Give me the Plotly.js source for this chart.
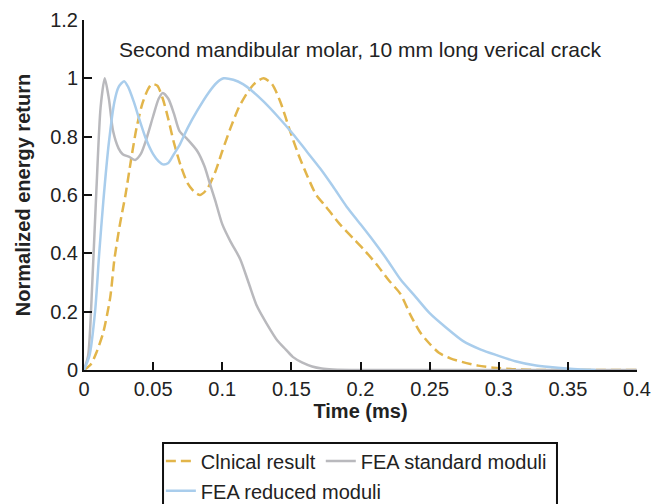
<!DOCTYPE html>
<html>
<head>
<meta charset="utf-8">
<script src="https://cdn.plot.ly/plotly-3.0.1.min.js"></script>
<style>html,body{margin:0;padding:0;background:#fff;}#chart{width:653px;height:504px;}</style>
</head>
<body>
<div id="chart"></div>
<script>
// Time (ms) and normalized energy return
var clinicalX = [0, 0.005, 0.009, 0.014, 0.019, 0.022, 0.026, 0.03, 0.034, 0.038, 0.042, 0.046, 0.049, 0.053, 0.057, 0.061, 0.065, 0.07, 0.075, 0.08, 0.084, 0.089, 0.095, 0.1, 0.106, 0.112, 0.118, 0.124, 0.13, 0.136, 0.142, 0.149, 0.155, 0.162, 0.168, 0.175, 0.185, 0.195, 0.203, 0.212, 0.22, 0.229, 0.236, 0.243, 0.25, 0.257, 0.265, 0.274, 0.285, 0.296, 0.31, 0.33, 0.4];
var clinicalY = [0, 0.02, 0.06, 0.13, 0.25, 0.38, 0.5, 0.6, 0.72, 0.83, 0.91, 0.96, 0.98, 0.975, 0.93, 0.86, 0.78, 0.7, 0.64, 0.61, 0.6, 0.62, 0.68, 0.75, 0.83, 0.9, 0.95, 0.985, 1.0, 0.98, 0.92, 0.82, 0.74, 0.66, 0.6, 0.56, 0.5, 0.45, 0.41, 0.36, 0.31, 0.26, 0.19, 0.13, 0.09, 0.058, 0.04, 0.027, 0.015, 0.008, 0.003, 0, 0];

var standardX = [0, 0.003, 0.006, 0.009, 0.012, 0.015, 0.018, 0.021, 0.025, 0.028, 0.033, 0.037, 0.041, 0.045, 0.05, 0.054, 0.057, 0.061, 0.065, 0.069, 0.075, 0.082, 0.087, 0.091, 0.095, 0.1, 0.106, 0.113, 0.119, 0.125, 0.132, 0.14, 0.146, 0.151, 0.158, 0.165, 0.172, 0.18, 0.2, 0.25, 0.3, 0.4];
var standardY = [0, 0.05, 0.3, 0.62, 0.9, 1.0, 0.93, 0.82, 0.76, 0.74, 0.73, 0.72, 0.74, 0.79, 0.87, 0.93, 0.95, 0.93, 0.88, 0.82, 0.79, 0.75, 0.7, 0.64, 0.58, 0.5, 0.44, 0.38, 0.3, 0.22, 0.16, 0.1, 0.07, 0.045, 0.025, 0.012, 0.005, 0.002, 0, 0, 0, 0];

var reducedX = [0, 0.004, 0.008, 0.011, 0.014, 0.018, 0.022, 0.025, 0.029, 0.032, 0.036, 0.04, 0.045, 0.05, 0.054, 0.057, 0.061, 0.065, 0.069, 0.075, 0.082, 0.09, 0.096, 0.101, 0.108, 0.115, 0.122, 0.13, 0.14, 0.151, 0.161, 0.171, 0.18, 0.19, 0.2, 0.209, 0.219, 0.229, 0.24, 0.25, 0.262, 0.274, 0.287, 0.299, 0.312, 0.325, 0.337, 0.349, 0.36, 0.37];
var reducedY = [0, 0.05, 0.2, 0.4, 0.58, 0.78, 0.92, 0.97, 0.99, 0.97, 0.92, 0.86, 0.79, 0.74, 0.715, 0.705, 0.71, 0.74, 0.77, 0.83, 0.89, 0.95, 0.985, 1.0, 0.995, 0.98, 0.955, 0.92, 0.87, 0.81, 0.75, 0.69, 0.63, 0.56, 0.5, 0.445, 0.38, 0.31, 0.25, 0.195, 0.145, 0.1, 0.07, 0.05, 0.03, 0.017, 0.01, 0.005, 0.002, 0];

var xTicks = [0, 0.05, 0.1, 0.15, 0.2, 0.25, 0.3, 0.35, 0.4];
var xTickText = ["0", "0.05", "0.1", "0.15", "0.2", "0.25", "0.3", "0.35", "0.4"];
var yTicks = [0, 0.2, 0.4, 0.6, 0.8, 1, 1.2];
var yTickText = ["0", "0.2", "0.4", "0.6", "0.8", "1", "1.2"];

var FONT = "Liberation Sans, Arial, Helvetica, sans-serif";
var TXT = "#222";

var traces = [
  {x: clinicalX, y: clinicalY, mode: "lines", name: "Clnical result", legend: "legend",
   line: {color: "#E2B54A", width: 2.5, dash: "10px,5px", shape: "spline", smoothing: 0.7}},
  {x: standardX, y: standardY, mode: "lines", name: "FEA standard moduli", legend: "legend",
   line: {color: "#B9B9BD", width: 2.5, shape: "spline", smoothing: 0.7}},
  {x: reducedX, y: reducedY, mode: "lines", name: "FEA reduced moduli", legend: "legend2",
   line: {color: "#A9CDEC", width: 2.5, shape: "spline", smoothing: 0.7}}
];

var legendBase = {orientation: "h", xanchor: "left", yanchor: "middle",
                  borderwidth: 0, bgcolor: "rgba(0,0,0,0)",
                  font: {family: FONT, size: 20, color: TXT}};

var layout = {
  width: 653, height: 504,
  margin: {l: 84, r: 16, t: 20, b: 134, autoexpand: false},
  paper_bgcolor: "#fff", plot_bgcolor: "#fff",
  font: {family: FONT, size: 20, color: TXT},
  showlegend: true,
  legend: Object.assign({}, legendBase, {x: 0.139, y: -0.26}),
  legend2: Object.assign({}, legendBase, {x: 0.139, y: -0.345}),
  xaxis: {range: [0, 0.4], tickvals: xTicks, ticktext: xTickText,
          tickfont: {family: FONT, size: 20, color: TXT},
          showline: true, linecolor: "#111", linewidth: 2, mirror: false,
          ticks: "inside", ticklen: 8, tickwidth: 2, tickcolor: "#111",
          showgrid: false, zeroline: false,
          title: {text: "<b>Time (ms)</b>", font: {family: FONT, size: 20, color: TXT}, standoff: 4}},
  yaxis: {range: [0, 1.2], tickvals: yTicks, ticktext: yTickText,
          tickfont: {family: FONT, size: 20, color: TXT},
          showline: true, linecolor: "#111", linewidth: 2,
          ticks: "inside", ticklen: 8, tickwidth: 2, tickcolor: "#111",
          showgrid: false, zeroline: false,
          title: {text: "<b>Normalized energy return</b>", font: {family: FONT, size: 20, color: TXT}, standoff: 14}},
  annotations: [
    {x: 0.2, y: 1.1, xref: "x", yref: "y", text: "Second mandibular molar, 10 mm long verical crack",
     showarrow: false, font: {family: FONT, size: 21, color: TXT}}
  ],
  shapes: [
    {type: "rect", xref: "paper", yref: "paper", x0: 0.1429, x1: 0.8553, y0: -0.2086, y1: -0.40,
     line: {color: "#111", width: 2}, fillcolor: "rgba(0,0,0,0)"}
  ]
};

Plotly.newPlot("chart", traces, layout, {displayModeBar: false, staticPlot: true});
</script>
</body>
</html>
